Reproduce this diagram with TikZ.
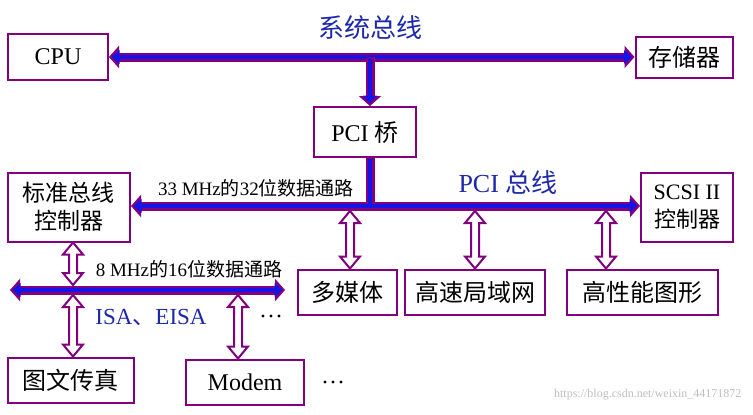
\documentclass[tikz,border=0pt]{standalone}
\usepackage{fontspec}
\setmainfont{Liberation Serif}
\newfontfamily\cjk{Noto Sans CJK SC}
\usetikzlibrary{arrows.meta,calc}
\definecolor{pur}{RGB}{128,0,128}
\definecolor{bblue}{RGB}{20,20,230}
\definecolor{lblue}{RGB}{30,40,170}
\tikzset{
  box/.style={draw=pur,line width=2pt,fill=white,minimum height=#1,inner sep=2pt,font=\fontsize{24}{26}\selectfont},
  box/.default=46pt,
  busO/.style={draw=pur,line width=9pt},
  busI/.style={draw=bblue,line width=4.5pt},
  hol/.style={draw=pur,line width=2pt,fill=white,line join=miter},
  lab/.style={font=\fontsize{19}{21}\selectfont,inner sep=0pt},
  blab/.style={font=\fontsize{26}{28}\selectfont,text=lblue,inner sep=0pt},
}
\newcommand\holarr[2]{\draw[hol] let \p1=(#1), \p2=(#2) in
 (\x1,\y1) -- (\x1-10pt,\y1-12pt) -- (\x1-4pt,\y1-12pt) -- (\x2-4pt,\y2+12pt) -- (\x2-10pt,\y2+12pt) -- (\x2,\y2)
 -- (\x2+10pt,\y2+12pt) -- (\x2+4pt,\y2+12pt) -- (\x1+4pt,\y1-12pt) -- (\x1+10pt,\y1-12pt) -- cycle;}
\newcommand\mydots[1]{\fill let \p1=(#1) in (\x1-8pt,\y1) circle (1.7pt) (\x1,\y1) circle (1.7pt) (\x1+8pt,\y1) circle (1.7pt);}
\begin{document}
\begin{tikzpicture}[x=1pt,y=-1pt]
\useasboundingbox[fill=white] (0,0) rectangle (753,415);
% nodes
\node[box,minimum width=100pt] (cpu) at (58,57) {CPU};
\node[box=41pt,minimum width=97pt] (mem) at (684,57) {{\cjk 存储器}};
\node[box=50pt,minimum width=102pt] (pci) at (365,132) {PCI {\cjk 桥}};
\node[box=69pt,minimum width=122pt,align=center,font=\fontsize{23}{28}\selectfont] (std) at (69,207) {{\cjk 标准总线}\\{\cjk 控制器}};
\node[box=69pt,minimum width=92pt,align=center,font=\fontsize{22}{28}\selectfont] (scsi) at (687,207) {SCSI II\\{\cjk 控制器}};
\node[box=45pt,minimum width=99pt] (mm) at (347,292) {{\cjk 多媒体}};
\node[box=45pt,minimum width=140pt] (lan) at (475,292) {{\cjk 高速局域网}};
\node[box=45pt,minimum width=151pt] (gfx) at (642,292) {{\cjk 高性能图形}};
\node[box=45pt,minimum width=126pt] (fax) at (71,380) {{\cjk 图文传真}};
\node[box=45pt,minimum width=118pt] (modem) at (245,382) {Modem};
% bus coordinates
\coordinate (sysL) at (cpu.east|-0,57);
\coordinate (sysR) at (mem.west|-0,57);
\coordinate (sysM) at (370,57);
\coordinate (pciL) at (std.east|-0,206);
\coordinate (pciR) at (scsi.west|-0,206);
\coordinate (pciM) at (370,206);
\coordinate (isaL) at (10,290);
\coordinate (isaR) at (285,290);
% system bus
\draw[busO,{Triangle[length=10pt,width=22pt]}-{Triangle[length=10pt,width=22pt]}] (sysL) -- (sysR);
\draw[busI,{Triangle[length=8pt,width=13pt]}-{Triangle[length=8pt,width=13pt]},shorten <=2.5pt,shorten >=2.5pt] (sysL) -- (sysR);
\draw[busO,-{Triangle[length=10pt,width=22pt]}] (sysM) -- (pci.north-|sysM);
\draw[busI,-{Triangle[length=8pt,width=13pt]},shorten >=2.5pt] ([yshift=-2pt]sysM) -- (pci.north-|sysM);
% PCI bus
\draw[busO] (pci.south-|pciM) -- ([yshift=4pt]pciM);
\draw[busO,{Triangle[length=10pt,width=22pt]}-{Triangle[length=10pt,width=22pt]}] (pciL) -- (pciR);
\draw[busI,{Triangle[length=8pt,width=13pt]}-{Triangle[length=8pt,width=13pt]},shorten <=2.5pt,shorten >=2.5pt] (pciL) -- (pciR);
\draw[busI] ([yshift=-1pt]pci.south-|pciM) -- (pciM);
% ISA bus
\draw[busO,{Triangle[length=10pt,width=22pt]}-{Triangle[length=10pt,width=22pt]}] (isaL) -- (isaR);
\draw[busI,{Triangle[length=8pt,width=13pt]}-{Triangle[length=8pt,width=13pt]},shorten <=2.5pt,shorten >=2.5pt] (isaL) -- (isaR);
% hollow arrows
\holarr{$(pciM)+(-20,5)$}{mm.north-|350,0}
\holarr{$(pciM)+(105,5)$}{lan.north-|475,0}
\holarr{$(pciM)+(236,5)$}{gfx.north-|606,0}
\holarr{std.south-|73,0}{$(isaL)+(63,-5)$}
\holarr{$(isaL)+(63,5)$}{fax.north-|73,0}
\holarr{$(isaL)+(228,5)$}{modem.north-|238,0}
% labels
\node[blab] (l1) at (370,28) {{\cjk 系统总线}};
\node[blab] (l2) at (508,183) {PCI {\cjk 总线}};
\node[lab] (l3) at (256,188) {33 MHz{\cjk 的}32{\cjk 位数据通路}};
\node[lab] (l4) at (189,269) {8 MHz{\cjk 的}16{\cjk 位数据通路}};
\node[blab,font=\fontsize{23}{25}\selectfont] (l5) at (151,318) {ISA{\cjk 、}EISA};
\coordinate (d1) at (271,316);
\coordinate (d2) at (333,382);
\mydots{d1}
\mydots{d2}
\node[font=\fontsize{12}{14}\selectfont,text=gray!50,anchor=east] (wm) at (745,395) {https://blog.csdn.net/weixin\_44171872};
\end{tikzpicture}
\end{document}
